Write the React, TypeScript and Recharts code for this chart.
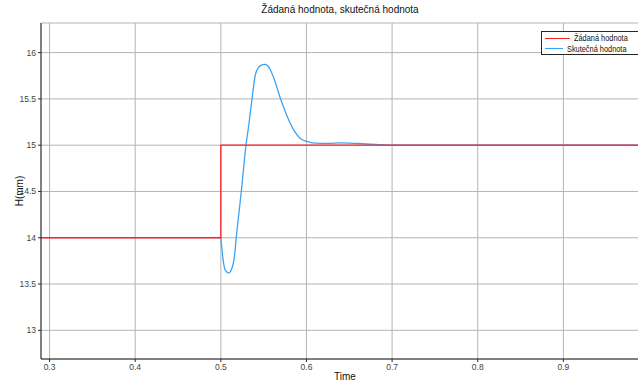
import React from "react";
import { LineChart, Line, XAxis, YAxis, CartesianGrid } from "recharts";

const setpointTime = [0.29, 0.5, 0.5, 1.0];
const setpointValue = [14, 14, 15, 15];

const actualTime = [0.5, 0.5033, 0.5052, 0.5091, 0.513, 0.5158, 0.518, 0.5239, 0.5294, 0.5325, 0.5364, 0.5403, 0.5441, 0.5475, 0.5511, 0.5545, 0.5578, 0.5636, 0.5694, 0.575, 0.5809, 0.5867, 0.5925, 0.6003, 0.61, 0.625, 0.64, 0.66, 0.68, 0.7, 0.75, 1.0];
const actualValue = [14, 13.72, 13.65, 13.62, 13.67, 13.79, 14.0, 14.5, 15.0, 15.21, 15.5, 15.76, 15.84, 15.865, 15.873, 15.86, 15.815, 15.68, 15.51, 15.37, 15.24, 15.14, 15.075, 15.04, 15.022, 15.02, 15.025, 15.018, 15.008, 15.001, 15.0, 15.0];

const xTicks = [0.3, 0.4, 0.5, 0.6, 0.7, 0.8, 0.9];
const yTicks = [13, 13.5, 14, 14.5, 15, 15.5, 16];

const seriesNames = ["Žádaná hodnota", "Skutečná hodnota"];
const seriesColors = ["#ff2020", "#3aa3f5"];

const setpointData = setpointTime.map((t, i) => ({ t, v: setpointValue[i] }));
const actualData = actualTime.map((t, i) => ({ t, v: actualValue[i] }));

const FONT = "'Liberation Sans', Arial, sans-serif";

const LegendBox = () => (
  <div
    style={{
      position: "absolute",
      left: 541,
      top: 31,
      width: 100,
      height: 24,
      border: "1px solid #262626",
      background: "#fff",
      fontFamily: FONT,
      fontSize: 9,
      color: "#111",
      boxSizing: "border-box",
      paddingTop: 1,
    }}
  >
    {seriesNames.map((n, i) => (
      <div key={n} style={{ display: "flex", alignItems: "center", height: 10.5 }}>
        <div style={{ width: 26, height: 0, borderTop: `1.5px solid ${seriesColors[i]}`, marginLeft: 3, marginRight: 4 }} />
        <span style={{ whiteSpace: "nowrap", display: "inline-block", transform: "scaleX(0.82)", transformOrigin: "left center" }}>{n}</span>
      </div>
    ))}
  </div>
);

export default function App() {
  return (
    <div style={{ position: "absolute", left: 0, top: 0, width: 638, height: 383, overflow: "hidden", background: "#fff" }}>
      <div style={{ position: "absolute", left: 0, top: 4, width: 680, textAlign: "center", fontFamily: FONT, fontSize: 10, color: "#111" }}>
        Žádaná hodnota, skutečná hodnota
      </div>
      <LineChart width={650} height={383} margin={{ top: 23, right: 1, bottom: 0, left: 0 }}>
        <CartesianGrid stroke="#b4b4b4" strokeWidth={1} />
        <XAxis
          xAxisId="top"
          orientation="top"
          type="number"
          dataKey="t"
          domain={[0.29, 1.0]}
          ticks={xTicks}
          height={0}
          tick={false}
          tickLine={false}
          axisLine={{ stroke: "#262626" }}
          allowDataOverflow
        />
        <XAxis
          type="number"
          dataKey="t"
          domain={[0.29, 1.0]}
          ticks={xTicks}
          allowDataOverflow
          height={24}
          tickSize={3}
          tickLine={{ stroke: "#262626" }}
          axisLine={{ stroke: "#262626" }}
          tick={{ fontSize: 8.5, fill: "#444", fontFamily: FONT }}
          tickFormatter={(v: number) => String(v)}
          label={{ value: "Time", position: "insideBottom", offset: 3, fontSize: 10, fill: "#111", fontFamily: FONT }}
        />
        <YAxis
          type="number"
          domain={[12.69, 16.32]}
          ticks={yTicks}
          allowDataOverflow
          width={41}
          tickSize={3}
          tickLine={{ stroke: "#262626" }}
          axisLine={{ stroke: "#262626" }}
          tick={{ fontSize: 8.5, fill: "#444", fontFamily: FONT }}
          label={{ value: "H(mm)", angle: -90, position: "insideLeft", offset: 19, fontSize: 10, fill: "#111", fontFamily: FONT, style: { textAnchor: "middle" } }}
        />
        <Line
          data={actualData}
          dataKey="v"
          name={seriesNames[1]}
          type="monotone"
          stroke={seriesColors[1]}
          strokeWidth={1.3}
          dot={false}
          activeDot={false}
          isAnimationActive={false}
        />
        <Line
          data={setpointData}
          dataKey="v"
          name={seriesNames[0]}
          type="linear"
          stroke={seriesColors[0]}
          strokeWidth={1.3}
          dot={false}
          activeDot={false}
          isAnimationActive={false}
        />
      </LineChart>
      <LegendBox />
    </div>
  );
}
